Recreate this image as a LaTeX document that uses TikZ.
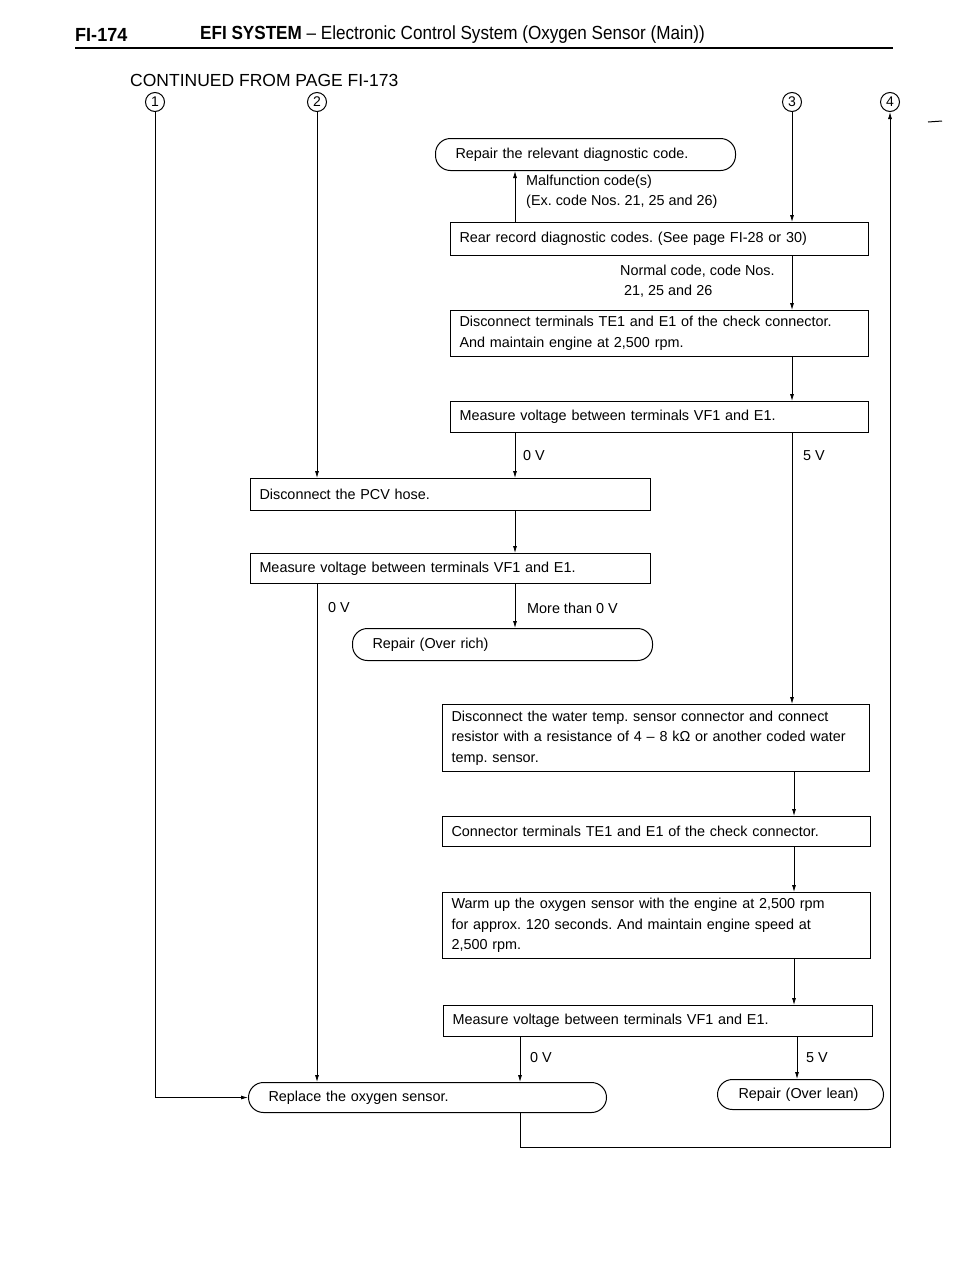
\documentclass[tikz,border=0pt]{standalone}
\usepackage{fontspec}
\setmainfont{Liberation Sans}
\usetikzlibrary{arrows.meta}
\frenchspacing
\begin{document}
\begin{tikzpicture}[x=1pt,y=-1pt,
  font=\fontsize{14.4}{20.5}\selectfont\frenchspacing,
  box/.style={draw, line width=1pt, rectangle, anchor=north west, align=left,
    inner xsep=9pt, inner ysep=0pt},
  stad/.style={draw, line width=1pt, rectangle, rounded corners=15pt, anchor=north west,
    align=left, inner xsep=20pt, inner ysep=0pt},
  circ/.style={draw, circle, line width=1pt, inner sep=0pt, minimum size=19pt,
    font=\fontsize{14}{14}\selectfont},
  lbl/.style={anchor=west, inner sep=0pt, align=left},
  arr/.style={line width=0.8pt, -{Latex[length=7pt,width=4pt]}},
  ln/.style={line width=0.8pt}]
\useasboundingbox (0,0) rectangle (960,1280);

% header
\node[anchor=west, inner sep=0pt, font=\fontsize{19}{19}\selectfont\bfseries] (pg) at (75,35) {\scalebox{0.95}[1]{FI-174}};
\node[anchor=west, inner sep=0pt, font=\fontsize{19}{19}\selectfont] (hdr) at (200,35)
  {\scalebox{0.9}[1]{\textbf{EFI SYSTEM} – Electronic Control System (Oxygen Sensor (Main))}};
\draw[line width=2.4pt] (75,48) -- (893,48);
\node[anchor=west, inner sep=0pt, font=\fontsize{17.5}{17.5}\selectfont] (cont) at (130,80) {CONTINUED FROM PAGE FI-173};
\draw[line width=1pt] (928,122) -- (942,121);

% circled connectors
\node[circ] (c1) at (155,102) {1};
\node[circ] (c2) at (317,102) {2};
\node[circ] (c3) at (792,102) {3};
\node[circ] (c4) at (890,102) {4};

% boxes
\node[stad, minimum width=300pt, minimum height=32pt, text width=260pt] (rrel) at (435,138) {Repair the relevant diagnostic code.};
\node[box, minimum width=418pt, minimum height=33pt, text width=400pt] (rear) at (450,222) {Rear record diagnostic codes. (See page FI-28 or 30)};
\node[box, minimum width=418pt, minimum height=46pt, text width=400pt] (disc) at (450,310) {Disconnect terminals TE1 and E1 of the check connector.\\And maintain engine at 2,500 rpm.};
\node[box, minimum width=418pt, minimum height=31pt, text width=400pt] (meas1) at (450,401) {Measure voltage between terminals VF1 and E1.};
\node[box, minimum width=400pt, minimum height=32pt, text width=382pt] (pcv) at (250,478) {Disconnect the PCV hose.};
\node[box, minimum width=400pt, minimum height=30pt, text width=382pt] (meas2) at (250,553) {Measure voltage between terminals VF1 and E1.};
\node[stad, minimum width=300pt, minimum height=32pt, text width=260pt] (rich) at (352,628) {Repair (Over rich)};
\node[box, minimum width=427pt, minimum height=67pt, text width=409pt] (water) at (442,704) {Disconnect the water temp. sensor connector and connect\\resistor with a resistance of 4 – 8 kΩ or another coded water\\temp. sensor.};
\node[box, minimum width=428pt, minimum height=30pt, text width=410pt] (conn) at (442,816) {Connector terminals TE1 and E1 of the check connector.};
\node[box, minimum width=428pt, minimum height=66pt, text width=410pt] (warm) at (442,892) {Warm up the oxygen sensor with the engine at 2,500 rpm\\for approx. 120 seconds. And maintain engine speed at\\2,500 rpm.};
\node[box, minimum width=429pt, minimum height=31pt, text width=411pt] (meas3) at (443,1005) {Measure voltage between terminals VF1 and E1.};
\node[stad, minimum width=358pt, minimum height=30pt, text width=318pt] (rep) at (248,1082) {Replace the oxygen sensor.};
\node[stad, minimum width=166pt, minimum height=30pt, text width=124pt, inner xsep=21pt] (lean) at (717,1079) {Repair (Over lean)};

% helper coordinates
\coordinate (xa) at (515,0);
\coordinate (xb) at (792,0);
\coordinate (xc) at (794,0);
\coordinate (xd) at (520,0);
\coordinate (xe) at (797,0);
\coordinate (yb) at (0,1147);

% connectors
\draw[arr] (c1.south) -- (c1.south |- rep.west) -- (rep.west);
\draw[arr] (c2.south) -- (c2.south |- pcv.north);
\draw[arr] (c3.south) -- (c3.south |- rear.north);
\draw[arr] (xa |- rear.north) -- (xa |- rrel.south);
\draw[arr] (xb |- rear.south) -- (xb |- disc.north);
\draw[arr] (xb |- disc.south) -- (xb |- meas1.north);
\draw[arr] (xa |- meas1.south) -- (xa |- pcv.north);
\draw[arr] (xb |- meas1.south) -- (xb |- water.north);
\draw[arr] (xa |- pcv.south) -- (xa |- meas2.north);
\draw[arr] (xa |- meas2.south) -- (xa |- rich.north);
\draw[arr] (c2 |- meas2.south) -- (c2 |- rep.north);
\draw[arr] (xc |- water.south) -- (xc |- conn.north);
\draw[arr] (xc |- conn.south) -- (xc |- warm.north);
\draw[arr] (xc |- warm.south) -- (xc |- meas3.north);
\draw[arr] (xd |- meas3.south) -- (xd |- rep.north);
\draw[arr] (xe |- meas3.south) -- (xe |- lean.north);
\draw[arr] (xd |- rep.south) -- (xd |- yb) -- (c4 |- yb) -- (c4.south);

% labels
\node[lbl] (lmal) at (526,192) {Malfunction code(s)\\(Ex. code Nos. 21, 25 and 26)};
\node[lbl] (lnorm) at (620,281) {Normal code, code Nos.\\\ 21, 25 and 26};
\node[lbl] (l0a) at (523,456) {0 V};
\node[lbl] (l5a) at (803,456) {5 V};
\node[lbl] (l0b) at (328,608) {0 V};
\node[lbl] (lmore) at (527,608) {More than 0 V};
\node[lbl] (l0c) at (530,1058) {0 V};
\node[lbl] (l5c) at (806,1058) {5 V};
\end{tikzpicture}
\end{document}
